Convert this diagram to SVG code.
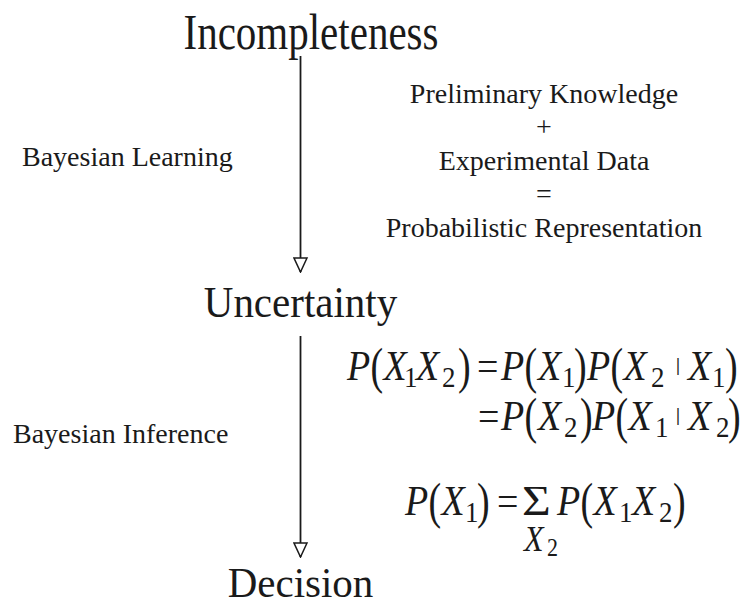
<svg xmlns="http://www.w3.org/2000/svg" width="744" height="606" viewBox="0 0 744 606">
<defs>
<style>
text{font-family:"Liberation Serif","Times New Roman",serif;fill:#1a1a1a}
.title{font-size:41px;text-anchor:middle}
.lbl{font-size:28px}
.blk{font-size:28px;text-anchor:middle}
.f{font-size:38px}
.i{font-style:italic}
.s{font-size:27px}
.bar{font-size:18px;font-weight:bold}
.conn{stroke:#1a1a1a;stroke-width:1.8;fill:none}
</style>
<marker id="hollow" markerUnits="userSpaceOnUse" markerWidth="16" markerHeight="16" refX="14" refY="7" orient="auto" viewBox="-1 -1 16 16">
<path d="M0,0.5 L14,7 L0,13.5 Z" fill="#fff" stroke="#1a1a1a" stroke-width="1.5"/>
</marker>
</defs>
<rect width="744" height="606" fill="#fff"/>
<g id="connectors">
<line class="conn" x1="300.5" y1="56" x2="300.5" y2="272" marker-end="url(#hollow)"/>
<line class="conn" x1="300.5" y1="336" x2="300.5" y2="557" marker-end="url(#hollow)"/>
</g>
<g id="incompleteness"><text class="title" transform="translate(311,48.5) scale(1,1.22)">Incompleteness</text></g>
<g id="uncertainty"><text class="title" transform="translate(300.5,317) scale(1,1.07)">Uncertainty</text></g>
<g id="decision"><text class="title" transform="translate(300.5,597) scale(1,1.05)">Decision</text></g>
<g id="label-learning"><text class="lbl" x="22" y="166">Bayesian Learning</text></g>
<g id="label-inference"><text class="lbl" x="13" y="443">Bayesian Inference</text></g>
<g id="representation">
<text class="blk" x="544" y="103">Preliminary Knowledge</text>
<text class="blk" x="544" y="136">+</text>
<text class="blk" x="544" y="170">Experimental Data</text>
<text class="blk" x="544" y="203">=</text>
<text class="blk" x="544" y="237">Probabilistic Representation</text>
</g>
<g id="formula-1" transform="translate(0,380) scale(1,1.1)">
<text class="f i" x="347" y="0">P</text>
<text class="f" transform="translate(370.5,0) scale(1,1.2)" y="2.6">(</text>
<text class="f i" x="383.5" y="0">X</text>
<text class="s" x="404" y="6.5">1</text>
<text class="f i" x="416" y="0">X</text>
<text class="s" x="442" y="6.5">2</text>
<text class="f" transform="translate(458,0) scale(1,1.2)" y="2.6">)</text>
<text class="f" x="477" y="0">=</text>
<text class="f i" x="501" y="0">P</text>
<text class="f" transform="translate(524.5,0) scale(1,1.2)" y="2.6">(</text>
<text class="f i" x="538" y="0">X</text>
<text class="s" x="562" y="6.5">1</text>
<text class="f" transform="translate(574,0) scale(1,1.2)" y="2.6">)</text>
<text class="f i" x="587" y="0">P</text>
<text class="f" transform="translate(610.5,0) scale(1,1.2)" y="2.6">(</text>
<text class="f i" x="623.5" y="0">X</text>
<text class="s" x="651" y="6.5">2</text>
<text class="bar" x="676" y="-8.2">|</text>
<text class="f i" x="688" y="0">X</text>
<text class="s" x="712" y="6.5">1</text>
<text class="f" transform="translate(725,0) scale(1,1.2)" y="2.6">)</text>
</g>
<g id="formula-2" transform="translate(0,430) scale(1,1.1)">
<text class="f" x="478" y="0">=</text>
<text class="f i" x="501" y="0">P</text>
<text class="f" transform="translate(524.5,0) scale(1,1.2)" y="2.6">(</text>
<text class="f i" x="538" y="0">X</text>
<text class="s" x="564" y="6.5">2</text>
<text class="f" transform="translate(580,0) scale(1,1.2)" y="2.6">)</text>
<text class="f i" x="592" y="0">P</text>
<text class="f" transform="translate(615.5,0) scale(1,1.2)" y="2.6">(</text>
<text class="f i" x="628.5" y="0">X</text>
<text class="s" x="655" y="6.5">1</text>
<text class="bar" x="676" y="-8.2">|</text>
<text class="f i" x="688" y="0">X</text>
<text class="s" x="716" y="6.5">2</text>
<text class="f" transform="translate(728,0) scale(1,1.2)" y="2.6">)</text>
</g>
<g id="formula-3" transform="translate(0,515) scale(1,1.1)">
<text class="f i" x="405" y="0">P</text>
<text class="f" transform="translate(428.5,0) scale(1,1.2)" y="2.6">(</text>
<text class="f i" x="441.5" y="0">X</text>
<text class="s" x="465" y="6.5">1</text>
<text class="f" transform="translate(477,0) scale(1,1.2)" y="2.6">)</text>
<text class="f" x="497" y="0">=</text>
<text class="f" transform="translate(522,0) scale(1.3,1)">Σ</text>
<text class="f i" x="557" y="0">P</text>
<text class="f" transform="translate(580.5,0) scale(1,1.2)" y="2.6">(</text>
<text class="f i" x="593.5" y="0">X</text>
<text class="s" x="619" y="6.5">1</text>
<text class="f i" x="632" y="0">X</text>
<text class="s" x="659" y="6.5">2</text>
<text class="f" transform="translate(673,0) scale(1,1.2)" y="2.6">)</text>
<text class="i" style="font-size:32px" x="524" y="32.5">X</text>
<text style="font-size:22px" x="547" y="37.5">2</text>
</g>
</svg>
